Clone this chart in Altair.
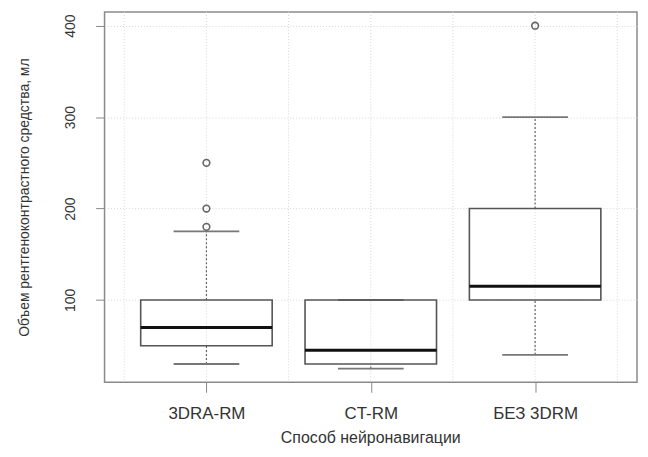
import json
import altair as alt
import pandas as pd

categories = ["3DRA-RM", "CT-RM", "БЕЗ 3DRM"]
q1 = [50, 30, 100]
median = [70, 45, 115]
q3 = [100, 100, 200]
whisker_low = [30, 25, 40]
whisker_high = [175, 100, 300]
outlier_group = ["3DRA-RM", "3DRA-RM", "3DRA-RM", "БЕЗ 3DRM"]
outlier_value = [180, 200, 250, 400]
y_ticks = [100, 200, 300, 400]
x_grid = [0.5, 1, 1.5, 2, 2.5, 3, 3.5]

HALF = 0.4
CAP = 0.2

pos = [i + 1 for i in range(len(categories))]
box = pd.DataFrame({
    "group": categories, "pos": pos,
    "lo": [p - HALF for p in pos], "hi": [p + HALF for p in pos],
    "clo": [p - CAP for p in pos], "chi": [p + CAP for p in pos],
    "q1": q1, "median": median, "q3": q3,
    "wlo": whisker_low, "whi": whisker_high,
})
out = pd.DataFrame({
    "pos": [categories.index(g) + 1 for g in outlier_group],
    "value": outlier_value,
})
grid_df = pd.DataFrame({"gx": x_grid})

xs = alt.Scale(domain=[0.38, 3.62], nice=False, zero=False)
ys = alt.Scale(domain=[10, 415], nice=False, zero=False)

label_expr = json.dumps(categories) + "[datum.value - 1]"

x_axis = alt.Axis(
    values=pos, labelExpr=label_expr, grid=False, domain=False,
    tickSize=10, tickColor="#888888", tickWidth=1,
    labelFont="Liberation Sans", labelFontSize=17, labelColor="#333333",
    labelPadding=13, labelAngle=0,
    title="Способ нейронавигации", titleFont="Liberation Sans",
    titleFontSize=16, titleFontWeight="normal", titleColor="#333333",
    titleX=267, titleY=56, titleAlign="center", titleBaseline="middle",
)
y_axis = alt.Axis(
    values=y_ticks, grid=True, gridColor="#d8d8d8", gridDash=[1, 2],
    domain=False, tickSize=9, tickColor="#888888",
    labelFont="Liberation Sans", labelFontSize=14, labelColor="#333333",
    labelAngle=-90, labelAlign="center", labelBaseline="bottom",
    labelPadding=18,
    title="Объем рентгеноконтрастного средства, мл",
    titleFont="Liberation Sans", titleFontSize=14, titleFontWeight="normal",
    titleColor="#333333", titleAngle=-90, titleX=-80, titleY=186,
    titleAlign="center", titleBaseline="middle",
)

vgrid = alt.Chart(grid_df).mark_rule(color="#d8d8d8", strokeDash=[1, 2], strokeWidth=1).encode(
    x=alt.X("gx:Q", scale=xs, axis=x_axis)
)

base = alt.Chart(box)

whisk_up = base.mark_rule(color="#666666", strokeDash=[2, 2], strokeWidth=1.2).encode(
    x=alt.X("pos:Q", scale=xs), y=alt.Y("q3:Q", scale=ys, axis=y_axis), y2="whi:Q"
)
whisk_dn = base.mark_rule(color="#666666", strokeDash=[2, 2], strokeWidth=1.2).encode(
    x=alt.X("pos:Q", scale=xs), y=alt.Y("wlo:Q", scale=ys), y2="q1:Q"
)
cap_hi = base.mark_rule(color="#777777", strokeWidth=1.8).encode(
    x=alt.X("clo:Q", scale=xs), x2="chi:Q", y=alt.Y("whi:Q", scale=ys)
)
cap_lo = base.mark_rule(color="#777777", strokeWidth=1.8).encode(
    x=alt.X("clo:Q", scale=xs), x2="chi:Q", y=alt.Y("wlo:Q", scale=ys)
)
rect = base.mark_rect(fillOpacity=0, stroke="#555555", strokeWidth=1.6).encode(
    x=alt.X("lo:Q", scale=xs), x2="hi:Q", y=alt.Y("q1:Q", scale=ys), y2="q3:Q"
)
med = base.mark_rule(color="#111111", strokeWidth=3).encode(
    x=alt.X("lo:Q", scale=xs), x2="hi:Q", y=alt.Y("median:Q", scale=ys)
)
pts = alt.Chart(out).mark_point(shape="circle", filled=False, size=45, color="#666666",
                                 strokeWidth=1.6, opacity=1).encode(
    x=alt.X("pos:Q", scale=xs), y=alt.Y("value:Q", scale=ys)
)

chart = alt.layer(vgrid, whisk_up, whisk_dn, cap_hi, cap_lo, rect, med, pts).properties(
    width=535, height=372,
    autosize=alt.AutoSizeParams(type="none"),
    padding={"left": 97, "top": 3, "right": 3, "bottom": 66},
    background="white",
).configure_view(stroke="#8a8a8a", strokeWidth=1.5)

chart.save("out.html", embed_options={"renderer": "svg", "actions": False})
